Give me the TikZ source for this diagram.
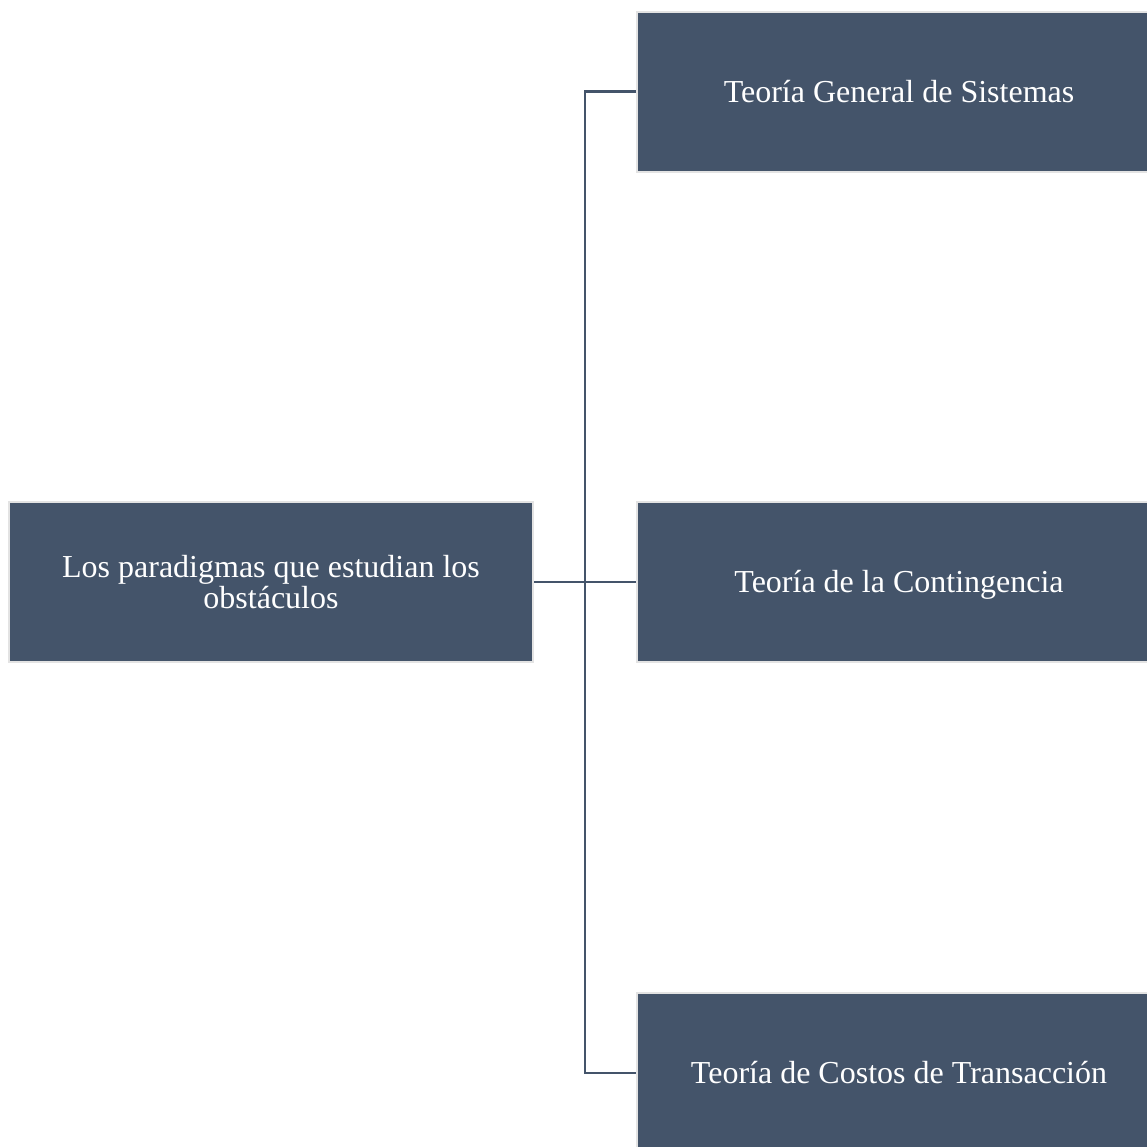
\documentclass[tikz,border=0pt]{standalone}
\usepackage{fontspec}
\setmainfont{Liberation Serif}
\definecolor{boxfill}{HTML}{44546A}
\definecolor{boxline}{HTML}{E3E3E3}
\begin{document}
\begin{tikzpicture}[x=1pt,y=-1pt,
  box/.style={draw=boxline, line width=2pt, fill=boxfill, text=white,
    minimum width=524pt, minimum height=160pt, inner sep=0pt, align=center,
    font=\fontsize{32}{31}\selectfont},
  leaf/.style={box, text height=21pt, text depth=0pt},
  conn/.style={draw=boxfill, line width=2.7pt}]
\useasboundingbox (0,0) rectangle (1147,1146);
\node[box] (root) at (271,582) {Los paradigmas que estudian los\\obstáculos};
\node[leaf] (a) at (899,91.5) {Teoría General de Sistemas};
\node[leaf] (b) at (899,582) {Teoría de la Contingencia};
\node[leaf] (c) at (899,1073) {Teoría de Costos de Transacción};
\coordinate (j) at (585,582);
\draw[conn] (root.east) -- (b.west);
\draw[conn] (a.west) -| (j) |- (c.west);
\end{tikzpicture}
\end{document}
